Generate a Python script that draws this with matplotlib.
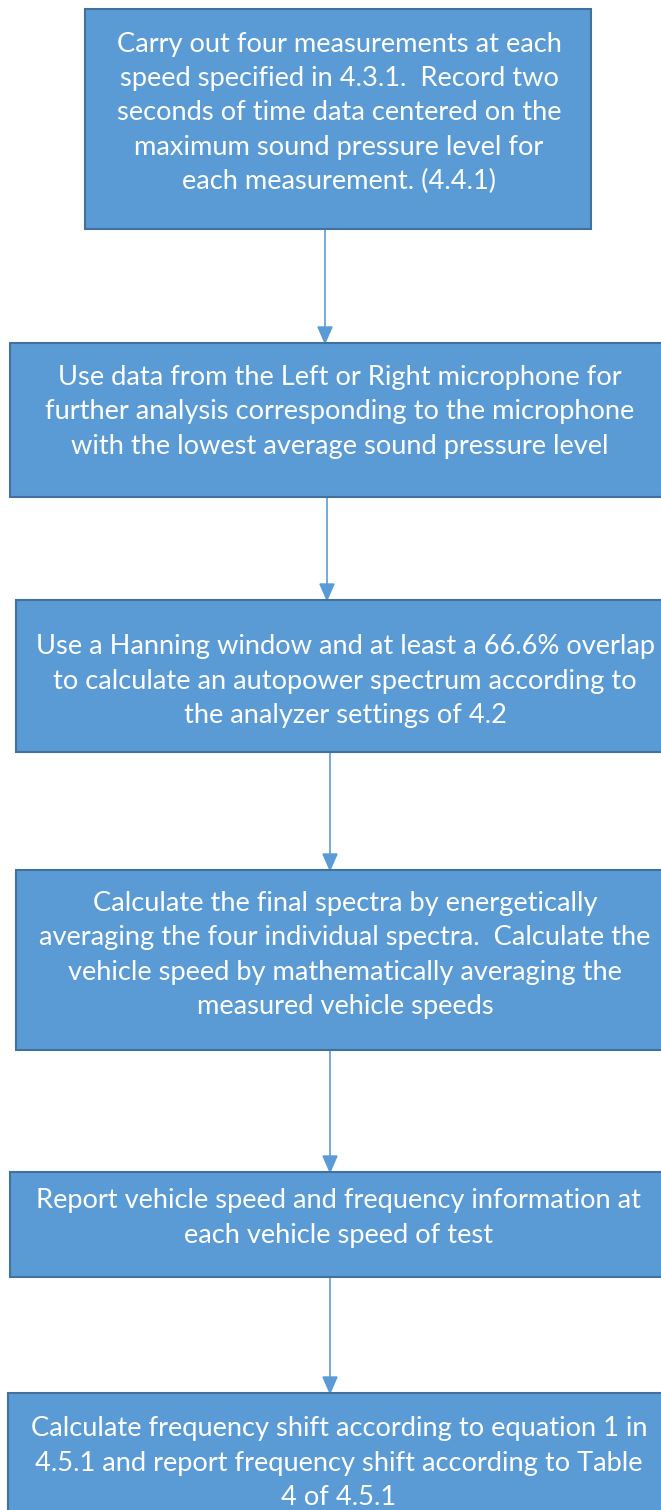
import matplotlib
matplotlib.use("Agg")
from matplotlib import pyplot as plt
from matplotlib.patches import Rectangle, Polygon

# box texts, top to bottom
steps = [
    "Carry out four measurements at each\nspeed specified in 4.3.1.  Record two\nseconds of time data centered on the\nmaximum sound pressure level for\neach measurement. (4.4.1)",
    "Use data from the Left or Right microphone for\nfurther analysis corresponding to the microphone\nwith the lowest average sound pressure level",
    "Use a Hanning window and at least a 66.6% overlap\nto calculate an autopower spectrum according to\nthe analyzer settings of 4.2",
    "Calculate the final spectra by energetically\naveraging the four individual spectra.  Calculate the\nvehicle speed by mathematically averaging the\nmeasured vehicle speeds",
    "Report vehicle speed and frequency information at\neach vehicle speed of test",
    "Calculate frequency shift according to equation 1 in\n4.5.1 and report frequency shift according to Table\n4 of 4.5.1",
]

# layout in pixels (x0, x1, y0, y1) and text centre
box_x0 = [85, 10, 16, 16, 10, 8]
box_x1 = [591, 664, 664, 664, 664, 664]
box_y0 = [9, 343, 600, 870, 1172, 1393]
box_y1 = [229, 497, 752, 1050, 1277, 1515]
text_y = [113, 412, 681, 955, 1218, 1463]
text_x = [339, 340, 345, 345, 339, 339]
arrow_x = [325, 327, 330, 330, 330]

fill = "#5B9BD5"
edge = "#41719C"

fig = plt.figure(figsize=(6.61, 15.10), dpi=100)
ax = fig.add_axes([0, 0, 1, 1])
ax.set_xlim(0, 661)
ax.set_ylim(1510, 0)
ax.axis("off")

for i, txt in enumerate(steps):
    ax.add_patch(Rectangle((box_x0[i], box_y0[i]), box_x1[i] - box_x0[i], box_y1[i] - box_y0[i],
                           facecolor=fill, edgecolor=edge, linewidth=1.5, zorder=2))
    ax.text(text_x[i], text_y[i], txt, ha="center", va="center", color="white",
            fontsize=19.6, family="Lato", linespacing=1.47, zorder=3)

# connectors
for i, x in enumerate(arrow_x):
    y0 = box_y1[i]
    y1 = box_y0[i + 1]
    ax.plot([x, x], [y0, y1 - 14], color=fill, linewidth=1.2, zorder=1)
    ax.add_patch(Polygon([[x - 7, y1 - 16], [x + 7, y1 - 16], [x, y1]],
                         closed=True, facecolor=fill, edgecolor=fill, zorder=1))

fig.savefig("out.png", dpi=100)
